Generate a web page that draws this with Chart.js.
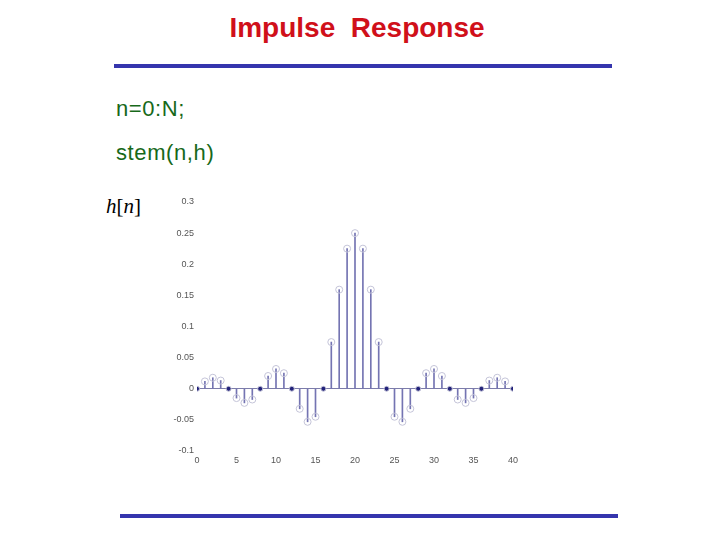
<!DOCTYPE html>
<html>
<head>
<meta charset="utf-8">
<script src="https://cdn.jsdelivr.net/npm/chart.js@4/dist/chart.umd.min.js"></script>
<style>
  body { margin: 0; background: #fff; }
  #slide { position: relative; width: 720px; height: 540px; overflow: hidden; background: #fff; }
  #chart { position: absolute; left: 0; top: 0; }
  .title {
    position: absolute; left: 0; width: 714px; top: 14px; text-align: center;
    font: bold 28px "Liberation Sans", Arial, sans-serif; line-height: 28px; color: #d0101a;
    white-space: pre;
  }
  .rule { position: absolute; height: 4px; background: #3535ad; }
  .code {
    position: absolute; left: 116px;
    font: 22px "Liberation Sans", Arial, sans-serif; line-height: 22px; color: #17691a;
    letter-spacing: 0.6px;
  }
  .ylab {
    position: absolute; left: 106px; top: 196px;
    font: 21px "Liberation Serif", "Times New Roman", serif; line-height: 21px; color: #000;
  }
</style>
</head>
<body>
<div id="slide">
  <div class="title">Impulse  Response</div>
  <div class="rule" style="left:114px; top:64px; width:498px;"></div>
  <div class="code" style="top:98px;">n=0:N;</div>
  <div class="code" style="top:142px;">stem(n,h)</div>
  <div class="ylab"><i>h</i>[<i>n</i>]</div>
  <canvas id="chart" width="720" height="540"></canvas>
  <div class="rule" style="left:120px; top:514px; width:498px;"></div>
</div>
<script>
// sample index and impulse response values
var n = [0, 1, 2, 3, 4, 5, 6, 7, 8, 9, 10, 11, 12, 13, 14, 15, 16, 17, 18, 19, 20,
         21, 22, 23, 24, 25, 26, 27, 28, 29, 30, 31, 32, 33, 34, 35, 36, 37, 38, 39, 40];
var h = [0, 0.0118, 0.0177, 0.0132, 0, -0.0150, -0.0227, -0.0173, 0, 0.0205, 0.0318,
         0.0250, 0, -0.0322, -0.0531, -0.0450, 0, 0.0750, 0.1592, 0.2251, 0.25,
         0.2251, 0.1592, 0.0750, 0, -0.0450, -0.0531, -0.0322, 0, 0.0250, 0.0318,
         0.0205, 0, -0.0173, -0.0227, -0.0150, 0, 0.0132, 0.0177, 0.0118, 0];
var xTicks = [0, 5, 10, 15, 20, 25, 30, 35, 40];
var yTicks = [-0.1, -0.05, 0, 0.05, 0.1, 0.15, 0.2, 0.25, 0.3];

var stemColor = '#7474b2';
var markerColor = '#c4c4d8';
var zeroDot = '#22227a';
var baseColor = '#7c7caa';
var tickFont = { family: '"Liberation Sans", Arial, sans-serif', size: 9 };

var points = n.map(function (v, i) { return { x: v, y: h[i] }; });

new Chart(document.getElementById('chart'), {
    type: 'bar',
    data: {
        datasets: [{
            type: 'bar',
            data: points,
            backgroundColor: stemColor,
            barThickness: 1,
            order: 2
        }, {
            type: 'line',
            data: points,
            showLine: false,
            pointRadius: h.map(function (v) { return v === 0 ? 2.5 : 3.5; }),
            pointBorderWidth: 1,
            pointBorderColor: markerColor,
            pointBackgroundColor: h.map(function (v) { return v === 0 ? zeroDot : 'rgba(0,0,0,0)'; }),
            order: 1
        }]
    },
    options: {
        responsive: false,
        animation: false,
        layout: { padding: { left: 167, right: 207, top: 202, bottom: 69 } },
        plugins: {
            legend: { display: false },
            tooltip: { enabled: false }
        },
        scales: {
            x: {
                type: 'linear',
                min: 0,
                max: 40,
                offset: false,
                grid: { display: false, drawTicks: false },
                border: { display: false },
                afterBuildTicks: function (s) { s.ticks = xTicks.map(function (v) { return { value: v }; }); },
                afterFit: function (s) { s.height = 20; },
                ticks: { font: tickFont, color: '#555', padding: 4, maxRotation: 0, autoSkip: false }
            },
            y: {
                min: -0.1,
                max: 0.3,
                grid: {
                    drawTicks: false,
                    color: function (c) { return c.tick && c.tick.value === 0 ? baseColor : 'rgba(0,0,0,0)'; }
                },
                border: { display: false },
                afterBuildTicks: function (s) { s.ticks = yTicks.map(function (v) { return { value: v }; }); },
                afterFit: function (s) { s.width = 30; },
                ticks: {
                    font: tickFont, color: '#555', padding: 3, autoSkip: false,
                    callback: function (v) { return String(v); }
                }
            }
        }
    }
});
</script>
</body>
</html>
